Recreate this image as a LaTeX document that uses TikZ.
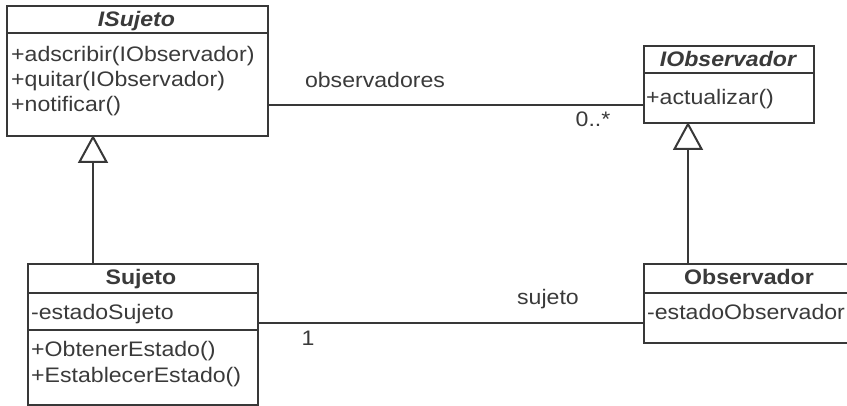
\documentclass[tikz,border=0pt]{standalone}
\usepackage{fontspec}
\setmainfont{Liberation Sans}[FakeStretch=1.1]
\usetikzlibrary{arrows.meta}
\definecolor{ln}{HTML}{383838}
\definecolor{tx}{HTML}{3A3A3A}
\begin{document}
\begin{tikzpicture}[x=1pt,y=-1pt,
  box/.style={draw=ln, line width=2pt, fill=white, inner sep=0pt, anchor=north west},
  sepline/.style={draw=ln, line width=1.6pt},
  conn/.style={draw=ln, line width=2pt},
  txt/.style={inner sep=0pt, text=tx, font=\fontsize{21}{25}\selectfont},
  lft/.style={txt, anchor=base west},
  ttl/.style={txt, anchor=base},
  gen/.style={-{Triangle[open, width=30pt, length=28pt, line width=2pt]}}]
\useasboundingbox (0,0) rectangle (847,406);
\clip (0,0) rectangle (847,406);
\fill[white] (0,0) rectangle (847,406);

% class boxes
\node[box, minimum width=261pt, minimum height=130pt] (isuj) at (6,5) {};
\node[box, minimum width=170pt, minimum height=77pt] (iobs) at (643,45) {};
\node[box, minimum width=230pt, minimum height=141pt] (suj) at (27,263) {};
\node[box, minimum width=260pt, minimum height=79pt] (obs) at (643,263) {};

% compartment separators
\draw[sepline] (isuj.west |- 0,33) -- (isuj.east |- 0,33);
\draw[sepline] (iobs.west |- 0,73) -- (iobs.east |- 0,73);
\draw[sepline] (suj.west |- 0,293) -- (suj.east |- 0,293);
\draw[sepline] (suj.west |- 0,330) -- (suj.east |- 0,330);
\draw[sepline] (obs.west |- 0,293) -- (obs.east |- 0,293);

% texts
\node[ttl, font=\fontsize{21}{25}\selectfont\bfseries\itshape] (tisuj) at (136.5,27) {ISujeto};
\node[lft] (m1) at (11,62) {+adscribir(IObservador)};
\node[lft] (m2) at (11,87) {+quitar(IObservador)};
\node[lft] (m3) at (11,112) {+notificar()};

\node[ttl, font=\fontsize{21}{25}\selectfont\bfseries\itshape] (tiobs) at (728,67) {IObservador};
\node[lft] (m4) at (646,105) {+actualizar()};

\node[ttl, font=\fontsize{21}{25}\selectfont\bfseries] (tsuj) at (141,285) {Sujeto};
\node[lft] (a1) at (31,320) {-estadoSujeto};
\node[lft] (m5) at (31,356) {+ObtenerEstado()};
\node[lft] (m6) at (31,382) {+EstablecerEstado()};

\node[ttl, font=\fontsize{21}{25}\selectfont\bfseries] (tobs) at (749,285) {Observador};
\node[lft] (a2) at (647,320) {-estadoObservador};

% generalizations
\coordinate (g1s) at (93,263);
\coordinate (g1e) at (93,135);
\draw[conn, gen] (g1s) -- (g1e);
\coordinate (g2s) at (688,263);
\coordinate (g2e) at (688,122);
\draw[conn, gen] (g2s) -- (g2e);

% associations
\coordinate (as1) at (267,105);
\coordinate (ae1) at (643,105);
\draw[conn] (as1) -- (ae1);
\node[ttl] (lobs) at (375,88) {observadores};
\node[ttl] (mult1) at (593,127) {0..*};

\coordinate (as2) at (257,323);
\coordinate (ae2) at (643,323);
\draw[conn] (as2) -- (ae2);
\node[ttl] (lsuj) at (548,305) {sujeto};
\node[ttl] (mult2) at (308,345) {1};
\end{tikzpicture}
\end{document}
